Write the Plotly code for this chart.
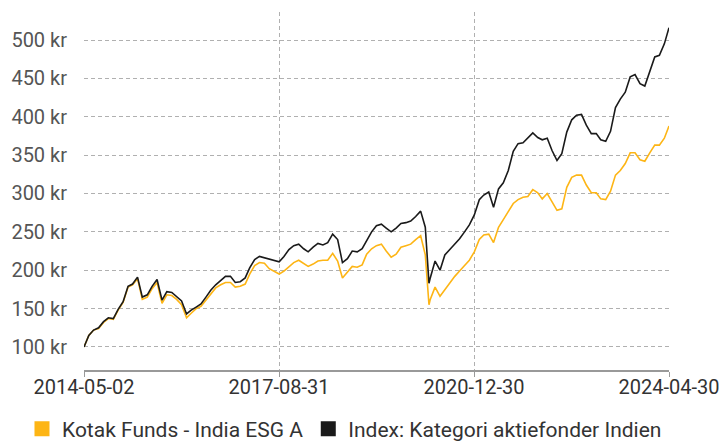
import pandas as pd
import plotly.graph_objects as go

# Sampling dates: start, month starts, crash low, end
month_starts = [d.strftime("%Y-%m-%d") for d in pd.date_range("2014-06-01", "2024-04-01", freq="MS")]
dates = ["2014-05-02"] + month_starts + ["2024-04-30"]
dates.insert(dates.index("2020-03-01") + 1, "2020-03-24")

fund_name = "Kotak Funds - India ESG A"
index_name = "Index: Kategori aktiefonder Indien"

fund = [100, 115, 122, 124, 132, 137, 136, 148, 158, 178, 181, 189,
        162, 165, 176, 184, 157, 168, 167, 162, 155, 138, 144, 150,
        153, 161, 168, 177, 181, 184, 184, 178, 179, 182, 195, 206,
        210, 209, 202, 198, 195, 199, 204, 210, 213, 209, 205, 208,
        212, 213, 213, 222, 212, 190, 198, 205, 204, 207, 221, 228,
        232, 234, 225, 217, 221, 230, 232, 234, 240, 245, 220,
        155,
        162, 178, 166, 175, 184, 192, 199, 206, 213,
        224, 240, 246, 247, 236, 256, 266, 276, 287, 292, 295, 296,
        305, 301, 293, 300, 290, 278, 280, 308, 321, 324, 324, 311,
        301, 301, 293, 292, 303, 324, 330, 339, 353, 353, 344, 342,
        353, 363, 363, 372, 388]

index = [100, 115, 122, 125, 133, 138, 137, 149, 159, 179, 182, 191,
         165, 168, 179, 188, 161, 172, 171, 166, 160, 143, 148, 152,
         156, 165, 174, 181, 187, 192, 192, 184, 185, 190, 203, 214,
         218, 216, 214, 213, 211, 218, 227, 232, 234, 228, 224, 230,
         235, 233, 236, 247, 240, 210, 215, 225, 224, 228, 238, 250,
         258, 260, 255, 250, 255, 261, 262, 264, 270, 277, 256,
         183,
         190, 212, 200, 220, 227, 234, 241, 250, 259,
         272, 292, 298, 302, 282, 306, 314, 330, 355, 365, 366, 372,
         379, 373, 370, 372, 356, 343, 352, 380, 396, 402, 403, 389,
         378, 378, 370, 368, 381, 412, 423, 432, 452, 455, 443, 440,
         460, 478, 480, 495, 516]

y_ticks = [100, 150, 200, 250, 300, 350, 400, 450, 500]
y_tick_labels = [f"{v} kr" for v in y_ticks]
x_ticks = ["2014-05-02", "2017-08-31", "2020-12-30", "2024-04-30"]

ORANGE = "#FDB515"
BLACK = "#1a1a1a"
FONT = "Roboto"

fig = go.Figure()
fig.add_trace(go.Scatter(x=dates, y=fund, mode="lines", line=dict(color=ORANGE, width=1.6),
                         name=fund_name, showlegend=False))
fig.add_trace(go.Scatter(x=dates, y=index, mode="lines", line=dict(color=BLACK, width=1.6),
                         name=index_name, showlegend=False))
# legend entries with square markers
fig.add_trace(go.Scatter(x=[None], y=[None], mode="markers", name=fund_name,
                         marker=dict(symbol="square", size=15, color=ORANGE)))
fig.add_trace(go.Scatter(x=[None], y=[None], mode="markers", name=index_name,
                         marker=dict(symbol="square", size=15, color=BLACK)))

fig.update_layout(
    width=721, height=443,
    margin=dict(l=84, r=52, t=12, b=73, autoexpand=False),
    paper_bgcolor="white", plot_bgcolor="white",
    font=dict(family=FONT, size=20, color="#333"),
    showlegend=True,
    legend=dict(orientation="h", x=-0.106, xanchor="left", y=-0.165, yanchor="middle",
                font=dict(family=FONT, size=21, color="#333"), itemwidth=30,
                tracegroupgap=0, traceorder="normal", bgcolor="rgba(0,0,0,0)"),
    xaxis=dict(
        type="date",
        range=["2014-05-02", "2024-04-30"],
        tickvals=x_ticks, ticktext=x_ticks,
        showgrid=True, gridcolor="#b0b0b0", gridwidth=1, griddash="4px,3px",
        showline=True, linecolor="#999", linewidth=1.5,
        ticks="outside", ticklen=5, tickcolor="#999",
        tickfont=dict(family=FONT, size=20, color="#333"),
        ticklabelstandoff=-7,
        zeroline=False,
    ),
    yaxis=dict(
        range=[70, 536.5],
        tickvals=y_ticks, ticktext=y_tick_labels,
        showgrid=True, gridcolor="#b0b0b0", gridwidth=1, griddash="4px,3px",
        showline=False, zeroline=False, ticks="",
        tickfont=dict(family=FONT, size=20, color="#555"),
        ticklabelstandoff=16,
    ),
)

fig.write_html("out.html",
               config={"displayModeBar": False},
               post_script="document.body.style.margin='0px';document.body.style.overflow='hidden';")
